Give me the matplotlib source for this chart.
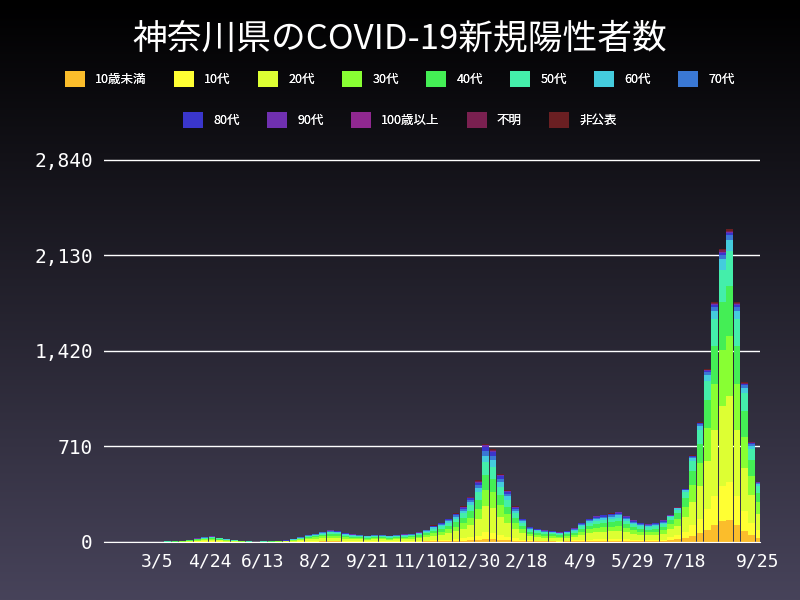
import datetime as dt

import matplotlib.pyplot as plt
import numpy as np
from matplotlib.colors import LinearSegmentedColormap
from matplotlib.patches import Patch

plt.rcParams['font.family'] = ['Noto Sans CJK JP', 'DejaVu Sans']

# ── Data (weekly mean of daily new cases) ────────────────────────────────────
start = dt.date(2020, 1, 16)
weekly_total = [
    0, 0, 0, 0, 1, 1, 1,            # Jan-Feb 2020
    2, 3, 4, 5,                     # Mar
    15, 25, 35, 40, 30,             # Apr
    20, 12, 5, 3,                   # May
    2, 3, 4, 6,                     # Jun
    10, 20, 35, 50, 60,             # Jul
    75, 85, 80, 65,                 # Aug
    55, 50, 45, 50,                 # Sep
    50, 45, 50, 55, 60,             # Oct
    70, 90, 120, 140,               # Nov
    170, 210, 260, 330, 450,        # Dec
    720, 680, 500, 380,             # Jan 2021
    260, 170, 110, 95,              # Feb
    85, 80, 70, 80,                 # Mar
    100, 140, 170, 190, 200,        # Apr
    210, 220, 190, 160,             # May
    140, 130, 140, 160,             # Jun
    200, 260, 400, 650, 900,        # Jul
    1300, 1800, 2200, 2350,         # Aug
    1800, 1200, 750, 450, 220,      # Sep
]
age_groups = ["10歳未満", "10代", "20代", "30代", "40代", "50代", "60代",
              "70代", "80代", "90代", "100歳以上", "不明", "非公表"]
share_early = [0.03, 0.07, 0.27, 0.17, 0.15, 0.13, 0.07, 0.05, 0.04, 0.015, 0.001, 0.005, 0.014]
share_wave5 = [0.07, 0.12, 0.27, 0.19, 0.16, 0.11, 0.035, 0.015, 0.008, 0.003, 0.0, 0.004, 0.006]
wave5_start = dt.date(2021, 7, 1)
colors = ["#fbbd2b", "#ffff33", "#ddff33", "#88ff33", "#44ee55", "#44eeaa", "#44ccdd",
          "#3a78d4", "#3a36cc", "#7030b0", "#902890", "#7a2050", "#6a1f22"]
yticks = [0, 710, 1420, 2130, 2840]
xtick_labels = ["3/5", "4/24", "6/13", "8/2", "9/21", "11/10", "12/30",
                "2/18", "4/9", "5/29", "7/18", "9/25"]

# ── Plot ─────────────────────────────────────────────────────────────────────
fig = plt.figure(figsize=(8, 6), dpi=100)
bg = fig.add_axes([0, 0, 1, 1], zorder=-1)
grad = np.linspace(0, 1, 256)[:, None]
bg.imshow(grad, aspect="auto", extent=[0, 1, 0, 1],
          cmap=LinearSegmentedColormap.from_list("bg", ["#000000", "#47435a"]))
bg.axis("off")

ax = fig.add_axes([0.13, 0.097, 0.82, 0.67])
ax.patch.set_alpha(0)

dates = [start + dt.timedelta(days=7 * i) for i in range(len(weekly_total))]
bottom = np.zeros(len(dates))
for g, (name, color) in enumerate(zip(age_groups, colors)):
    vals = np.array([t * (share_wave5[g] if d >= wave5_start else share_early[g])
                     for t, d in zip(weekly_total, dates)])
    ax.bar(dates, vals, bottom=bottom, width=6.5, color=color, align="edge",
           linewidth=0)
    bottom += vals

ax.set_ylim(0, 2990)
ax.set_yticks(yticks)
ax.set_yticklabels([f"{v:,}" for v in yticks], family="DejaVu Sans Mono",
                   fontsize=14, color="white")
ax.grid(axis="y", color="white", linewidth=1)
ax.set_axisbelow(True)

tick_dates = [dt.date(2020, 3, 5) + dt.timedelta(days=50 * i) for i in range(11)]
tick_dates.append(dt.date(2021, 9, 25))
ax.set_xticks(tick_dates)
ax.set_xticklabels(xtick_labels, family="DejaVu Sans Mono", fontsize=13, color="white")
ax.set_xlim(dt.date(2020, 1, 15), dt.date(2021, 9, 27))
ax.tick_params(length=0, pad=8)
for s in ["top", "right", "left"]:
    ax.spines[s].set_visible(False)
ax.spines["bottom"].set_color("white")

fig.text(0.5, 0.935, "神奈川県のCOVID-19新規陽性者数", ha="center", va="center",
         fontsize=25, color="white")

handles = [Patch(facecolor=c, label=n) for n, c in zip(age_groups, colors)]
for hs, y in [(handles[:8], 0.868), (handles[8:], 0.80)]:
    leg = fig.legend(handles=hs, loc="center", bbox_to_anchor=(0.5, y), ncol=len(hs),
                     frameon=False, fontsize=9, handlelength=1.6, handleheight=1.6,
                     columnspacing=2.2, labelcolor="white")
    fig.add_artist(leg)

fig.savefig("out.png", dpi=100)
